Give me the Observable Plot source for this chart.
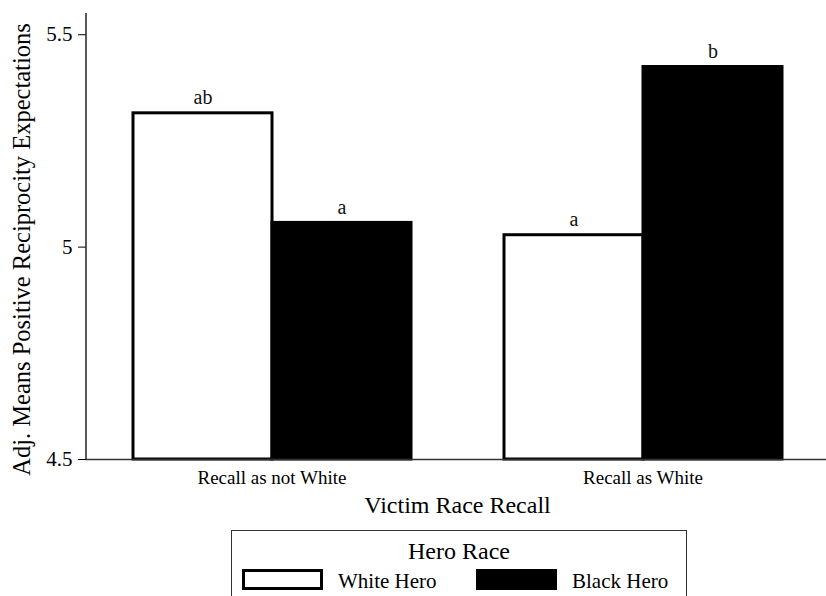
<!DOCTYPE html>
<html>
<head>
<meta charset="utf-8">
<script src="https://cdn.jsdelivr.net/npm/d3@7"></script>
<script src="https://cdn.jsdelivr.net/npm/@observablehq/plot@0.6"></script>
<style>
  html, body { margin: 0; padding: 0; background: #fff; overflow: hidden; }
  #wrap { position: relative; width: 826px; height: 596px; font-family: "Liberation Serif", "Times New Roman", serif; color: #000; }
  #wrap svg, #wrap svg g, #wrap svg text { font-family: "Liberation Serif", "Times New Roman", serif !important; }
  #legend { position: absolute; left: 231px; top: 530px; width: 456px; height: 90px; box-sizing: border-box; border: 1.5px solid #333; }
  .lg { position: absolute; white-space: nowrap; line-height: 1; }
  .sw { position: absolute; box-sizing: border-box; border: 3.5px solid #000; }
</style>
</head>
<body>
<div id="wrap"></div>
<script>
// ---- data ----
const groups = ["Recall as not White", "Recall as White"];
const heroes = ["White Hero", "Black Hero"];
const whiteHeroMeans = [5.315, 5.028];
const blackHeroMeans = [5.057, 5.424];
const whiteHeroLetters = ["ab", "a"];
const blackHeroLetters = ["a", "b"];
const yTicks = [4.5, 5, 5.5];
const yDomain = [4.5, 5.55];
const heroColors = ["white", "black"];
const yTitle = "Adj. Means Positive Reciprocity Expectations";
const xTitle = "Victim Race Recall";
const legendTitle = "Hero Race";

const table = [];
groups.forEach((g, i) => {
  table.push({group: g, hero: heroes[0], value: whiteHeroMeans[i], letter: whiteHeroLetters[i]});
  table.push({group: g, hero: heroes[1], value: blackHeroMeans[i], letter: blackHeroLetters[i]});
});

const font = "Liberation Serif";

const chart = Plot.plot({
  width: 826,
  height: 528,
  marginLeft: 86,
  marginRight: -2,
  marginTop: 13,
  marginBottom: 69,
  style: {fontFamily: font, background: "white", color: "#000", overflow: "visible"},
  fx: {domain: groups, padding: 0},
  x: {domain: heroes, paddingInner: 0, paddingOuter: 0.332, axis: null},
  y: {domain: yDomain},
  color: {domain: heroes, range: heroColors},
  marks: [
    Plot.barY(table, {fx: "group", x: "hero", y1: yDomain[0], y2: "value", fill: "hero", stroke: "black", strokeWidth: 3}),
    Plot.text(table, {fx: "group", x: "hero", y: "value", text: "letter", lineAnchor: "bottom", dy: -9, fontSize: 20, fill: "#111", fontFamily: font}),
    Plot.ruleY([yDomain[0]], {stroke: "#333", strokeWidth: 1.5}),
    Plot.axisY({ticks: yTicks, tickSize: 8, tickPadding: 6, fontSize: 21, tickFormat: d => String(d),
      label: yTitle, labelAnchor: "center", labelArrow: "none", labelOffset: 74}),
    Plot.axisFx({anchor: "bottom", tickSize: 0, tickPadding: 11, fontSize: 19,
      label: xTitle, labelAnchor: "center", labelArrow: "none", labelOffset: 53})
  ]
});

// y axis line, drawn from the chart's own y scale
const ys = chart.scale("y");
d3.select(chart).append("line")
  .attr("x1", 86).attr("x2", 86)
  .attr("y1", ys.apply(yDomain[1])).attr("y2", ys.apply(yDomain[0]))
  .attr("stroke", "#222").attr("stroke-width", 1.5);

// larger axis titles
d3.select(chart).selectAll("text")
  .filter(function() { return this.textContent === xTitle; })
  .attr("font-size", 24).style("font-size", "24px");
d3.select(chart).selectAll("text")
  .filter(function() { return this.textContent === yTitle; })
  .attr("font-size", 24.5).style("font-size", "24.5px").attr("dx", -13);

const wrap = document.getElementById("wrap");
wrap.appendChild(chart);

// legend
const lg = document.createElement("div");
lg.id = "legend";
let html = `<div class="lg" style="left:0;width:100%;text-align:center;top:8px;font-size:24px;">${legendTitle}</div>`;
const swLeft = [10, 244];
const txLeft = [106, 340];
heroes.forEach((h, i) => {
  html += `<div class="sw" style="left:${swLeft[i]}px;top:38px;width:81px;height:21px;background:${heroColors[i]};"></div>`;
  html += `<div class="lg" style="left:${txLeft[i]}px;top:40px;font-size:21px;">${h}</div>`;
});
lg.innerHTML = html;
wrap.appendChild(lg);
</script>
</body>
</html>
